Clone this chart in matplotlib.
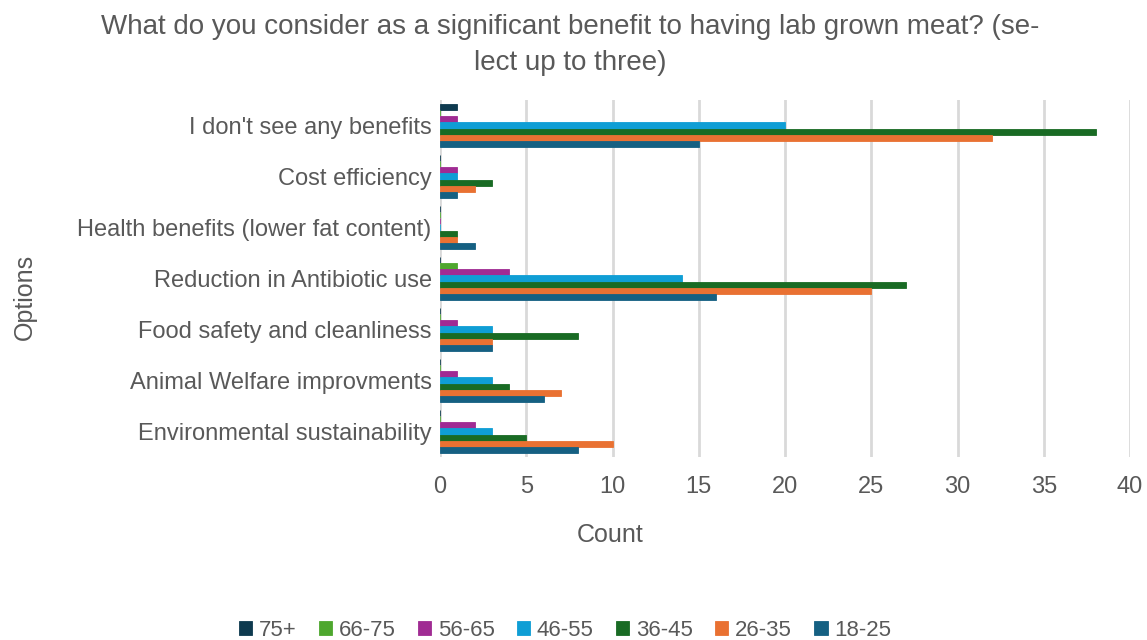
import matplotlib.pyplot as plt
import numpy as np

plt.rcParams['font.family'] = ['Liberation Sans', 'DejaVu Sans']

# categories top to bottom
options = ["I don't see any benefits", "Cost efficiency",
           "Health benefits (lower fat content)", "Reduction in Antibiotic use",
           "Food safety and cleanliness", "Animal Welfare improvments",
           "Environmental sustainability"]

groups = ["75+", "66-75", "56-65", "46-55", "36-45", "26-35", "18-25"]
colors = ["#0e3a4f", "#4ea72e", "#a02b93", "#0f9ed5", "#196b24", "#e97132", "#156082"]

age_75 = [1, 0, 0, 0, 0, 0, 0]
age_66_75 = [0, 0, 0, 1, 0, 0, 0]
age_56_65 = [1, 1, 0, 4, 1, 1, 2]
age_46_55 = [20, 1, 0, 14, 3, 3, 3]
age_36_45 = [38, 3, 1, 27, 8, 4, 5]
age_26_35 = [32, 2, 1, 25, 3, 7, 10]
age_18_25 = [15, 1, 2, 16, 3, 6, 8]
series = [age_75, age_66_75, age_56_65, age_46_55, age_36_45, age_26_35, age_18_25]

text_col = "#595959"

fig = plt.figure(figsize=(11.47, 6.4), dpi=100)
ax = fig.add_axes([440 / 1147, 1 - 457 / 640, 690 / 1147, 357 / 640])

y = np.arange(len(options))
n = len(series)
h = 0.83 / n
for i, (vals, c, g) in enumerate(zip(series, colors, groups)):
    pos = y - 0.415 + h * (i + 0.5)
    ax.barh(pos, vals, height=h, color=c, label=g, edgecolor=c, linewidth=0.6, zorder=3)

ax.set_ylim(len(options) - 0.5, -0.5)
ax.set_xlim(0, 40)
ax.set_xticks(range(0, 41, 5))
ax.set_yticks(y)
ax.set_yticklabels(options)
ax.grid(axis='x', color='#d9d9d9', linewidth=2, zorder=0)
for s in ax.spines.values():
    s.set_visible(False)
ax.tick_params(length=0, labelsize=17, colors=text_col, pad=6)
ax.tick_params(axis='x', pad=14)

fig.text(610 / 1147, 1 - 535 / 640, "Count", fontsize=18, color=text_col,
         ha='center', va='center')
fig.text(25 / 1147, 1 - 297 / 640, "Options", rotation=90, fontsize=18,
         color=text_col, ha='center', va='center')

fig.text(0.497, 1 - 45 / 640,
         "What do you consider as a significant benefit to having lab grown meat? (se-\nlect up to three)",
         ha='center', va='center', fontsize=20, color=text_col, linespacing=1.45)

handles, labels = ax.get_legend_handles_labels()
fig.legend(handles, labels, loc='center', bbox_to_anchor=(565 / 1147, 1 - 630 / 640),
           ncol=7, frameon=False, fontsize=16, labelcolor=text_col,
           handlelength=0.6, handleheight=0.6, handletextpad=0.3, columnspacing=1.0)

fig.savefig("out.png", dpi=100)
